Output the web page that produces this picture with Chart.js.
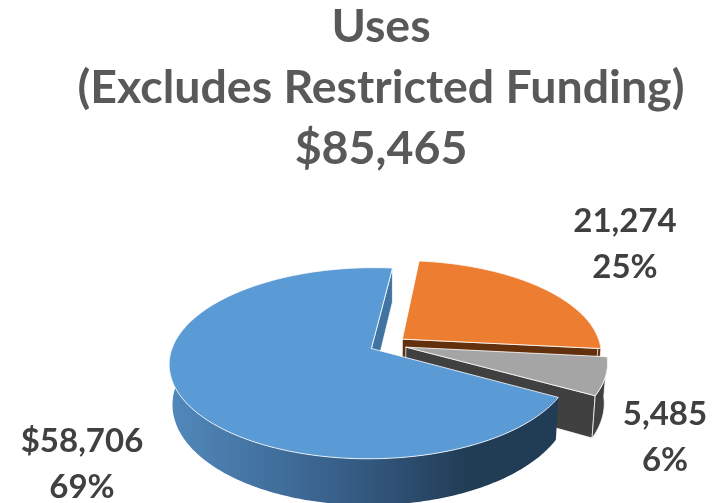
<!DOCTYPE html>
<html>
<head>
<meta charset="utf-8">
<style>
  html, body { margin: 0; padding: 0; background: #fff; }
  canvas { display: block; }
</style>
<script src="https://cdn.jsdelivr.net/npm/chart.js@4"></script>
</head>
<body>
<canvas id="usesChart" width="720" height="503"></canvas>
<script>
const categories = ['Blue', 'Orange', 'Gray'];
const usesValues = [58706, 21274, 5485];
const valueLabels = ['$58,706', '21,274', '5,485'];
const percentLabels = ['69%', '25%', '6%'];
const titleLines = ['Uses', '(Excludes Restricted Funding)', '$85,465'];

// top face colours, then the darker side walls
const faceColors = ['#5b9bd5', '#ed7d31', '#a5a5a5'];
const sideColors = ['#4274a3', '#63300e', '#404040'];

// where the 3D tilt puts the pie on screen
const view = { x: 388, y: 344.5, radius: 198, squash: 0.465, persp: 0.153, depth: 39, shrink: 0.015 };
const labelSpots = [{ x: 82, y: 452 }, { x: 625, y: 232 }, { x: 665, y: 425 }];

function project(arc, u, v, low) {
    const s = view.radius / arc.outerRadius;
    const w = 1 - view.persp * (v * s) / view.radius;
    let x = u * s / w;
    let y = v * s * view.squash / w;
    if (low) {
        x *= 1 - view.shrink;
        y += view.depth / w;
    }
    return { x: view.x + x, y: view.y + y };
}

function tracePoints(ctx, points) {
    ctx.beginPath();
    points.forEach((p, i) => i ? ctx.lineTo(p.x, p.y) : ctx.moveTo(p.x, p.y));
    ctx.closePath();
}

function sampleAngles(from, to) {
    const out = [];
    const n = Math.max(2, Math.ceil((to - from) * 60));
    for (let i = 0; i <= n; i++) out.push(from + (to - from) * i / n);
    return out;
}

function drawSlice(ctx, arc, index) {
    const { startAngle, endAngle, outerRadius } = arc.getProps(['startAngle', 'endAngle', 'outerRadius']);
    const r = outerRadius;
    const mid = (startAngle + endAngle) / 2;
    const ox = Math.cos(mid) * arc.options.offset;
    const oy = Math.sin(mid) * arc.options.offset;
    const rim = a => [ox + Math.cos(a) * r, oy + Math.sin(a) * r];
    const geo = { outerRadius: r };

    ctx.lineWidth = 1;
    ctx.lineJoin = 'round';
    ctx.strokeStyle = 'rgba(255,255,255,0.75)';

    // radial walls that face the viewer
    [[startAngle, startAngle - Math.PI / 2], [endAngle, endAngle + Math.PI / 2]].forEach(([a, normal]) => {
        if (Math.sin(normal) <= 0) return;
        const [ex, ey] = rim(a);
        tracePoints(ctx, [
            project(geo, ox, oy), project(geo, ex, ey),
            project(geo, ex, ey, true), project(geo, ox, oy, true)
        ]);
        ctx.fillStyle = sideColors[index];
        ctx.fill();
        ctx.stroke();
    });

    // outer wall, front half only (angles can run past a full turn)
    [0, 2 * Math.PI].forEach(turn => {
        const from = Math.max(startAngle, turn);
        const to = Math.min(endAngle, turn + Math.PI);
        if (to <= from) return;
        const angles = sampleAngles(from, to);
        const top = angles.map(a => { const [x, y] = rim(a); return project(geo, x, y); });
        const bottom = angles.map(a => { const [x, y] = rim(a); return project(geo, x, y, true); }).reverse();
        tracePoints(ctx, top.concat(bottom));
        if (index === 0) {
            const grad = ctx.createLinearGradient(172, 0, 470, 0);
            grad.addColorStop(0, '#5188bb');
            grad.addColorStop(0.55, '#38608a');
            grad.addColorStop(1, '#213c55');
            ctx.fillStyle = grad;
        } else {
            ctx.fillStyle = sideColors[index];
        }
        ctx.fill();
        if (index) ctx.stroke();
    });

    // top face
    const face = [project(geo, ox, oy)];
    sampleAngles(startAngle, endAngle).forEach(a => {
        const [x, y] = rim(a);
        face.push(project(geo, x, y));
    });
    tracePoints(ctx, face);
    ctx.fillStyle = arc.options.backgroundColor;
    ctx.fill();
    ctx.strokeStyle = arc.options.borderColor;
    ctx.lineWidth = arc.options.borderWidth;
    ctx.stroke();
}

const tiltPlugin = {
    id: 'tilt',
    beforeDatasetDraw(chart, args) {
        const ctx = chart.ctx;
        const arcs = args.meta.data;
        ctx.save();
        // back slices first, the big one sits in front
        [1, 2, 0].forEach(i => drawSlice(ctx, arcs[i], i));
        ctx.restore();
        return false;
    },
    afterDraw(chart) {
        const ctx = chart.ctx;
        ctx.save();
        ctx.font = '700 33px Lato';
        ctx.fillStyle = '#404040';
        ctx.textAlign = 'center';
        labelSpots.forEach((spot, i) => {
            ctx.fillText(valueLabels[i], spot.x, spot.y);
            ctx.fillText(percentLabels[i], spot.x, spot.y + 46);
        });
        ctx.restore();
    }
};

new Chart(document.getElementById('usesChart').getContext('2d'), {
    type: 'pie',
    data: {
        labels: categories,
        datasets: [{
            data: usesValues,
            backgroundColor: faceColors,
            borderColor: 'rgba(255,255,255,0.8)',
            borderWidth: 1,
            offset: 14
        }]
    },
    options: {
        responsive: false,
        animation: false,
        rotation: 119,
        layout: { padding: { left: 42 } },
        plugins: {
            legend: { display: false },
            tooltip: { enabled: false },
            title: {
                display: true,
                text: titleLines,
                color: '#595959',
                font: { family: 'Lato', size: 46.5, weight: '700', lineHeight: 1.32 },
                padding: { top: -4, bottom: 10 }
            }
        }
    },
    plugins: [tiltPlugin]
});
</script>
</body>
</html>
